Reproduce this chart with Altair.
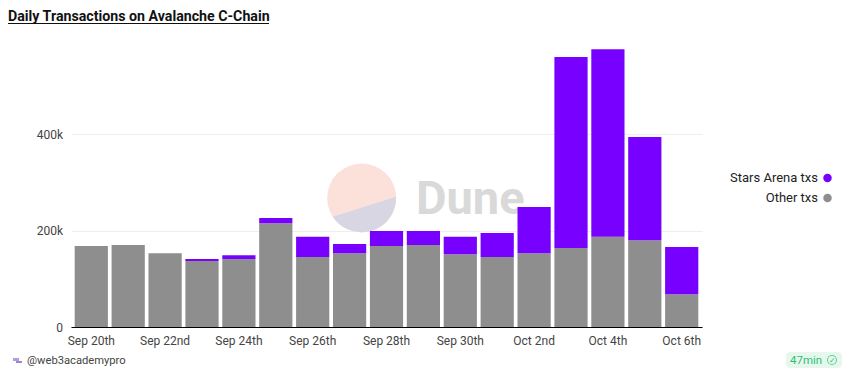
import altair as alt
import pandas as pd
import math

days = ["Sep 20th","Sep 21st","Sep 22nd","Sep 23rd","Sep 24th","Sep 25th","Sep 26th","Sep 27th","Sep 28th","Sep 29th","Sep 30th","Oct 1st","Oct 2nd","Oct 3rd","Oct 4th","Oct 5th","Oct 6th"]
other = [168,170,153,137,141,215,145,153,168,170,151,145,153,164,187,180,68]
total = [168,170,153,141,149,226,187,172,199,199,187,195,249,560,576,394,166]
tick_days = days[::2]
series = ["Stars Arena txs", "Other txs"]
colors = ["#7800ff", "#8e8e8e"]

FONT = "Roboto"
L, T = 63, 20   # padding left/top
W, H = 631, 299

rows = []
for d, o, t in zip(days, other, total):
    rows.append({"day": d, "series": "Other txs", "v": o * 1000, "ord": 0})
    rows.append({"day": d, "series": "Stars Arena txs", "v": (t - o) * 1000, "ord": 1})
df = pd.DataFrame(rows)
one = pd.DataFrame({"a": [0]})

def px(x): return x - 8 - L
def py(y): return y - 8 - T

def txt(s, x, y, **kw):
    return alt.Chart(one).mark_text(text=s, font=FONT, baseline="alphabetic", **kw).encode(x=alt.value(px(x)), y=alt.value(py(y)))

def rect(x1, x2, y1, y2, color, **kw):
    return alt.Chart(one).mark_rect(color=color, **kw).encode(
        x=alt.value(px(x1)), x2=alt.value(px(x2)), y=alt.value(py(y1)), y2=alt.value(py(y2)))

def logo(shape, color):
    return alt.Chart(one).mark_point(shape=shape, size=69**2, filled=True, color=color, opacity=1, strokeWidth=0).encode(
        x=alt.value(px(361.7)), y=alt.value(py(198)))

bars = alt.Chart(df).mark_bar().encode(
    x=alt.X("day:N", sort=days, title=None,
            scale=alt.Scale(paddingInner=0.1, paddingOuter=0.1),
            axis=alt.Axis(values=tick_days, labelAngle=0, ticks=False, domainColor="#000000", domainWidth=1,
                          labelFont=FONT, labelFontSize=12, labelColor="#444444", labelPadding=8, grid=False)),
    y=alt.Y("v:Q", stack="zero", title=None,
            scale=alt.Scale(domain=[0, 620000], nice=False),
            axis=alt.Axis(values=[0, 200000, 400000], labelExpr="datum.value === 0 ? '0' : (datum.value / 1000) + 'k'",
                          domain=False, ticks=False,
                          grid=True, gridColor="#eeeeee", labelFont=FONT, labelFontSize=12,
                          labelColor="#444444", labelPadding=8.5)),
    color=alt.Color("series:N", scale=alt.Scale(domain=series, range=colors),
                    legend=alt.Legend(title=None, orient="none", legendX=750, legendY=143.5,
                                      symbolType="circle", symbolSize=72, symbolStrokeWidth=0,
                                      labelAlign="right", labelOffset=alt.ExprRef(expr="-16"), labelFont=FONT,
                                      labelFontSize=13, labelColor="#222222", rowPadding=6,
                                      padding=0, symbolOpacity=1)),
    order=alt.Order("ord:Q"),
)

layers = [
    logo("circle", "#fce0da"),
    logo("M 0.994 -0.038 A 1 1 0 0 1 -0.838 0.545 Z", "#d9d6e4"),
    txt("Dune", 416, 214, fontSize=47, fontWeight="bold", color="#d9d9d9", align="left"),
    bars,
    txt("Daily Transactions on Avalanche C-Chain", 8, 21, fontSize=14.2, fontWeight="bold", color="#111111", align="left"),
    rect(8, 269, 23, 24, "#111111"),
    txt("@web3academypro", 27, 364, fontSize=11.2, color="#444444", align="left"),
    rect(13, 19, 358, 361, "#b79be8"),
    rect(16, 22, 361, 363, "#9a86c8"),
    rect(786, 842, 352, 368, "#e6f8ee", cornerRadius=4),
    txt("47min", 790, 364, fontSize=11.5, color="#2fbf71", align="left"),
    alt.Chart(one).mark_point(size=80, color="#2fbf71", strokeWidth=1.1, shape="circle", filled=False).encode(
        x=alt.value(px(832)), y=alt.value(py(360))),
    txt("✓", 832, 363, fontSize=8, color="#2fbf71", align="center"),
]

chart = alt.layer(*layers).properties(
    width=W, height=H,
    autosize=alt.AutoSizeParams(type="none"),
    padding={"left": L, "top": T, "right": 836 - L - W, "bottom": 362 - T - H},
    background="white",
).configure_view(stroke=None)

chart.save("out.html", embed_options={"renderer": "svg", "actions": False})
